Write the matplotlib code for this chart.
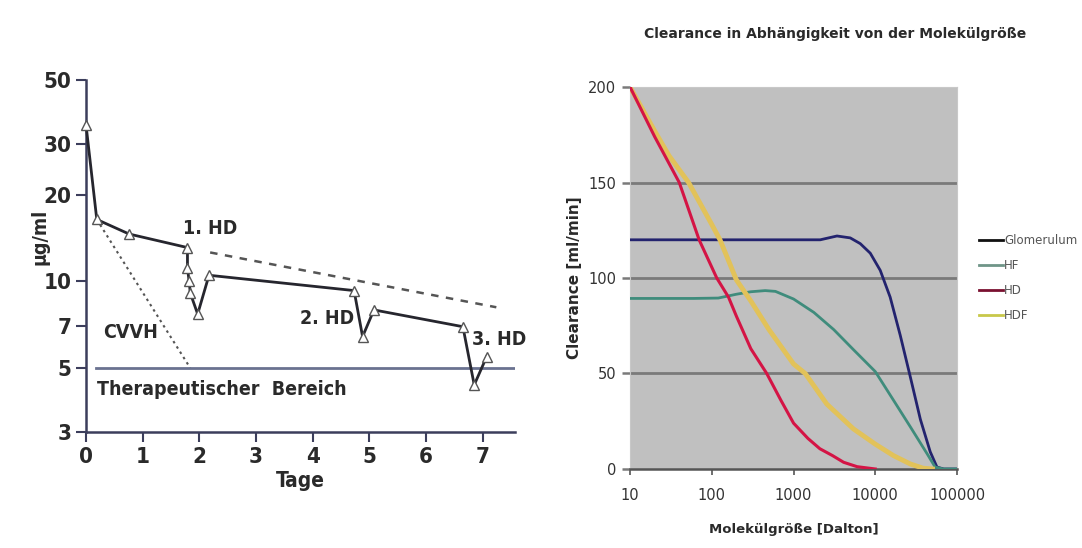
import matplotlib
matplotlib.use("Agg")
import matplotlib.pyplot as plt
from matplotlib import font_manager
from matplotlib.ticker import FixedLocator, NullLocator

# --- left panel: serum level over days (log scale) ---
days = [0.0, 0.19, 0.76, 1.79, 1.79, 1.82, 1.84, 1.97, 2.17, 4.73, 4.88, 5.08, 6.65, 6.85, 7.07]
level = [34.9, 16.4, 14.6, 13.1, 11.1, 10.0, 9.1, 7.7, 10.5, 9.29, 6.43, 7.96, 6.96, 4.37, 5.48]
trend_days = [2.19, 7.24]
trend_level = [12.6, 8.13]
cvvh_days = [0.19, 1.84]
cvvh_level = [16.4, 5.0]
range_days = [0.17, 7.57]
range_level = [5.0, 5.0]
y_ticks = [3, 5, 7, 10, 20, 30, 50]
x_ticks = [0, 1, 2, 3, 4, 5, 6, 7]

# --- right panel: clearance vs molecule size ---
glom_x = [10, 100, 1000, 2120, 3400, 4940, 6550, 8680, 11500, 15200, 20200, 26900, 35600, 47000, 56800, 68800, 100000]
glom_y = [120, 120, 120, 120, 122, 121, 118, 113, 104, 90, 70, 48, 26, 9, 1, 0, 0]
hf_x = [10, 60, 120, 200, 300, 450, 600, 1000, 1770, 3100, 5400, 10000, 16700, 26900, 43000, 54000, 68000, 100000]
hf_y = [89.3, 89.3, 89.5, 91.5, 92.8, 93.4, 93.0, 89, 82, 73, 62.5, 51, 36, 22, 8, 1, 0, 0]
hd_x = [10, 20, 40, 70, 115, 160, 200, 300, 470, 700, 1000, 1500, 2100, 3000, 4100, 6000, 10000]
hd_y = [200, 174, 150, 120, 100, 90, 80, 63, 50, 36, 24, 16, 10.6, 7, 3.5, 1.2, 0]
hdf_x = [10, 20, 30, 52, 100, 126, 200, 300, 500, 1000, 1390, 2550, 5400, 10000, 16700, 26900, 38500, 50000]
hdf_y = [200, 177, 164, 150, 128, 120, 99, 88, 73, 55, 50, 34, 21, 13, 7, 2.6, 0.4, 0]
clear_ticks = [0, 50, 100, 150, 200]
size_ticks = [10, 100, 1000, 10000, 100000]

# pick a narrow face for the left panel if one is installed
narrow_name = None
for f in font_manager.fontManager.ttflist:
    if 'narrow' in f.name.lower() or 'condensed' in f.name.lower() or f.stretch in ('condensed', 'semi-condensed', 'extra-condensed'):
        narrow_name = f.name
        narrow_stretch = f.stretch
        break
if narrow_name:
    narrow = dict(family=[narrow_name, 'DejaVu Sans'], stretch=narrow_stretch, weight='bold')
    big, txt = 16, 14
else:
    narrow = dict(family=['DejaVu Sans'], weight='bold')
    big, txt = 13, 12
ink = '#26262e'
tcol = '#2a2a2a'

fig = plt.figure(figsize=(10.82, 5.48), dpi=100)

ax1 = fig.add_axes([0.0795, 0.2117, 0.3965, 0.6423])
ax1.set_yscale('log')
ax1.set_ylim(3, 50)
ax1.set_xlim(0, 7.57)
ax1.plot(days, level, color=ink, lw=2.0, marker='^', ms=7, mfc='white', mec='#555555', mew=1.0,
         clip_on=False, zorder=4)
ax1.plot(trend_days, trend_level, color='#555555', lw=1.8, ls=(0, (3, 3)))
ax1.plot(cvvh_days, cvvh_level, color='#555555', lw=1.5, ls=(0, (1.2, 1.8)))
ax1.plot(range_days, range_level, color='#6a7290', lw=2.0)
ax1.yaxis.set_major_locator(FixedLocator(y_ticks))
ax1.yaxis.set_minor_locator(NullLocator())
ax1.set_yticklabels([str(v) for v in y_ticks])
ax1.xaxis.set_major_locator(FixedLocator(x_ticks))
for side in ['top', 'right']:
    ax1.spines[side].set_visible(False)
for side in ['left', 'bottom']:
    ax1.spines[side].set_color('#3c3e5c')
    ax1.spines[side].set_linewidth(1.8)
ax1.tick_params(direction='out', length=7, width=1.5, color='#3c3e5c', labelsize=big, labelcolor=tcol)
for lab in ax1.get_xticklabels() + ax1.get_yticklabels():
    lab.set_fontproperties(font_manager.FontProperties(size=big, **narrow))
ax1.set_xlabel('Tage', fontsize=txt + 1, color=tcol, labelpad=3, **narrow)
ax1.set_ylabel('µg/ml', fontsize=txt, color=tcol, **narrow)
ax1.yaxis.set_label_coords(-0.085, 0.555)
ax1.text(1.71, 15.3, '1. HD', fontsize=txt, color=tcol, ha='left', va='center', **narrow)
ax1.text(3.77, 7.46, '2. HD', fontsize=txt, color=tcol, ha='left', va='center', **narrow)
ax1.text(6.81, 6.26, '3. HD', fontsize=txt, color=tcol, ha='left', va='center', **narrow)
ax1.text(0.30, 6.67, 'CVVH', fontsize=txt, color=tcol, ha='left', va='center', **narrow)
ax1.text(0.19, 4.20, 'Therapeutischer  Bereich', fontsize=txt, color=tcol, ha='left', va='center', **narrow)

ax2 = fig.add_axes([0.5823, 0.1442, 0.3022, 0.697])
ax2.set_facecolor('#c0c0c0')
ax2.set_xscale('log')
ax2.set_xlim(10, 100000)
ax2.set_ylim(0, 200)
for v in clear_ticks[1:-1]:
    ax2.axhline(v, color='#7a7a7a', lw=2.0, zorder=1)
ax2.plot(glom_x, glom_y, color='#23236e', lw=2.0, label='Glomerulum', zorder=3)
ax2.plot(hf_x, hf_y, color='#3f8c7c', lw=2.0, label='HF', zorder=3)
ax2.plot(hdf_x, hdf_y, color='#e2c25a', lw=3.5, label='HDF', zorder=3)
ax2.plot(hd_x, hd_y, color='#d41445', lw=2.2, label='HD', zorder=4)
ax2.xaxis.set_major_locator(FixedLocator(size_ticks))
ax2.xaxis.set_minor_locator(NullLocator())
ax2.set_xticklabels([str(v) for v in size_ticks])
ax2.yaxis.set_major_locator(FixedLocator(clear_ticks))
ax2.set_yticklabels([str(v) for v in clear_ticks])
for side in ['top', 'right', 'left']:
    ax2.spines[side].set_color('#c8c8c8')
ax2.spines['bottom'].set_color('#555555')
ax2.spines['bottom'].set_linewidth(1.8)
ax2.tick_params(axis='y', length=6, width=1.8, color='#7a7a7a', labelsize=10.5, labelcolor='#333333', pad=4)
ax2.tick_params(axis='x', length=4, width=1.2, color='#555555', labelsize=10.5, labelcolor='#333333', pad=10)
ax2.set_title('Clearance in Abhängigkeit von der Molekülgröße', fontsize=10, fontweight='bold',
              color=tcol, pad=35, x=0.628)
ax2.set_xlabel('Molekülgröße [Dalton]', fontsize=9.5, fontweight='bold', color=tcol, labelpad=14)
ax2.set_ylabel('Clearance [ml/min]', fontsize=11, fontweight='bold', color=tcol, labelpad=4)

handles, labels = ax2.get_legend_handles_labels()
order = [0, 1, 3, 2]
leg = ax2.legend([handles[i] for i in order], [labels[i] for i in order],
                 loc='center left', bbox_to_anchor=(1.035, 0.50), frameon=False,
                 fontsize=8.5, handlelength=2.0, handletextpad=0.1, labelspacing=1.0)
for line, col in zip(leg.get_lines(), ['#111111', '#6f9588', '#7a1030', '#c8c84a']):
    line.set_color(col)
    line.set_linewidth(2.0)
for t in leg.get_texts():
    t.set_color('#555555')

fig.savefig('out.png', dpi=100)
